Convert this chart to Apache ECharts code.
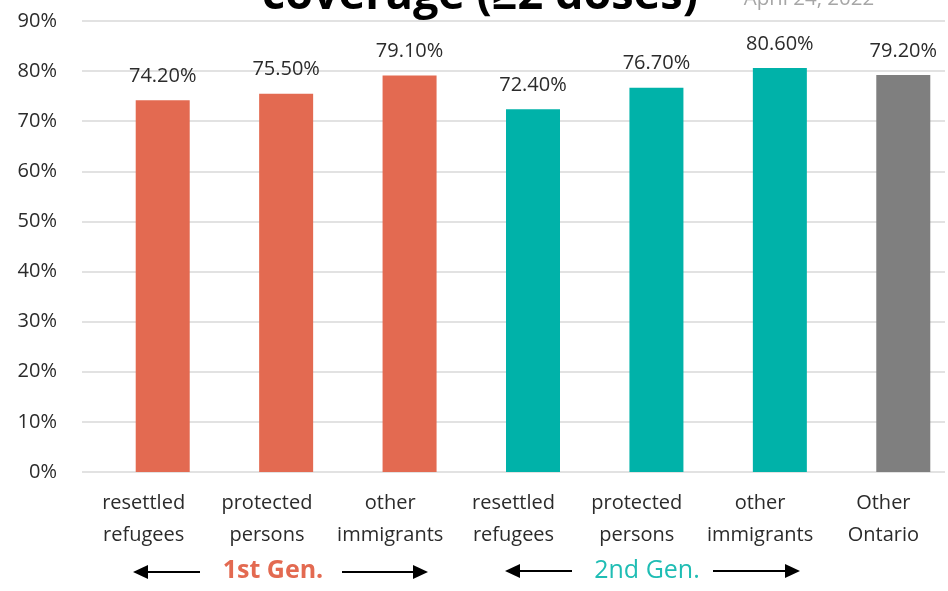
<!DOCTYPE html>
<html>
<head>
<meta charset="utf-8">
<script src="https://cdn.jsdelivr.net/npm/echarts@6/dist/echarts.min.js"></script>
<style>
  html, body { margin: 0; padding: 0; background: #ffffff; }
  #chart { width: 948px; height: 591px; }
</style>
</head>
<body>
<div id="chart"></div>
<script>
// Vaccine coverage (2+ doses) by immigration group
const categories = [
  'resettled\nrefugees', 'protected\npersons', 'other\nimmigrants',
  'resettled\nrefugees', 'protected\npersons', 'other\nimmigrants',
  'Other\nOntario'
];
const coverage = [74.2, 75.5, 79.1, 72.4, 76.7, 80.6, 79.2];
const groupOf = ['gen1', 'gen1', 'gen1', 'gen2', 'gen2', 'gen2', 'other'];
const groupColors = { gen1: '#E36A51', gen2: '#00B2A9', other: '#7F7F7F' };
const yTicks = { min: 0, max: 90, interval: 10 };

const FONT = '"Open Sans", sans-serif';
const TEXT = '#2B2B2B';

const chart = echarts.init(document.getElementById('chart'), null, { renderer: 'canvas' });

function arrow(x1, x2, y, dir) {
  // horizontal arrow: dir = -1 points left, +1 points right
  const tip = dir < 0 ? x1 : x2;
  const head = 15;
  const shaftStart = dir < 0 ? x1 + head - 2 : x1;
  const shaftEnd = dir < 0 ? x2 : x2 - head + 2;
  return [
    { type: 'line', shape: { x1: shaftStart, y1: y, x2: shaftEnd, y2: y },
      style: { stroke: '#000', lineWidth: 2 } },
    { type: 'polygon', shape: { points: [[tip, y], [tip - dir * head, y - 7], [tip - dir * head, y + 7]] },
      style: { fill: '#000' } }
  ];
}

const option = {
  animation: false,
  backgroundColor: '#ffffff',
  grid: [
    { left: 82, right: 3, top: 21, bottom: 119, outerBoundsMode: 'none' },
    // bar area: same band width as the label axis, shifted right
    { left: 101, width: 864, top: 21, bottom: 119, outerBoundsMode: 'none' }
  ],
  xAxis: [
    {
      type: 'category', gridIndex: 0, data: categories,
      axisLine: { show: false }, axisTick: { show: false },
      axisLabel: { interval: 0, color: TEXT, fontFamily: FONT, fontSize: 20, lineHeight: 32, margin: 15 }
    },
    {
      type: 'category', gridIndex: 1, data: categories, show: false
    }
  ],
  yAxis: [
    {
      type: 'value', gridIndex: 0, min: yTicks.min, max: yTicks.max, interval: yTicks.interval,
      axisLine: { show: false }, axisTick: { show: false },
      axisLabel: { color: TEXT, fontFamily: FONT, fontSize: 20, margin: 25, formatter: '{value}%' },
      splitLine: { lineStyle: { color: '#D9D9D9', width: 1.5 } }
    },
    {
      type: 'value', gridIndex: 1, min: yTicks.min, max: yTicks.max, interval: yTicks.interval,
      show: false, splitLine: { show: false }
    }
  ],
  series: [{
    type: 'bar',
    xAxisIndex: 1, yAxisIndex: 1,
    barWidth: 54,
    data: coverage.map((v, i) => ({ value: v, itemStyle: { color: groupColors[groupOf[i]] } })),
    label: {
      show: true, position: 'top', distance: 14,
      color: TEXT, fontFamily: FONT, fontSize: 20,
      formatter: p => p.value.toFixed(2) + '%'
    }
  }],
  graphic: [
    {
      type: 'text', x: 480, y: -26, z: 10,
      style: { text: 'coverage (≥2 doses)', font: 'bold 45px "Open Sans", sans-serif',
               fill: '#000', textAlign: 'center' }
    },
    {
      type: 'text', x: 809, y: -11, z: 10,
      style: { text: 'April 24, 2022', font: '20.5px "Open Sans", sans-serif',
               fill: '#A6A6A6', textAlign: 'center' }
    },
    {
      type: 'text', x: 273, y: 558, z: 10,
      style: { text: '1st Gen.', font: 'bold 25px "Open Sans", sans-serif',
               fill: '#E36A51', textAlign: 'center' }
    },
    {
      type: 'text', x: 647, y: 558, z: 10,
      style: { text: '2nd Gen.', font: '25px "Open Sans", sans-serif',
               fill: '#1FBDB4', textAlign: 'center' }
    },
    ...arrow(133, 200, 572, -1),
    ...arrow(342, 428, 572, 1),
    ...arrow(505, 572, 571, -1),
    ...arrow(713, 800, 571, 1)
  ]
};

chart.setOption(option);
</script>
</body>
</html>
